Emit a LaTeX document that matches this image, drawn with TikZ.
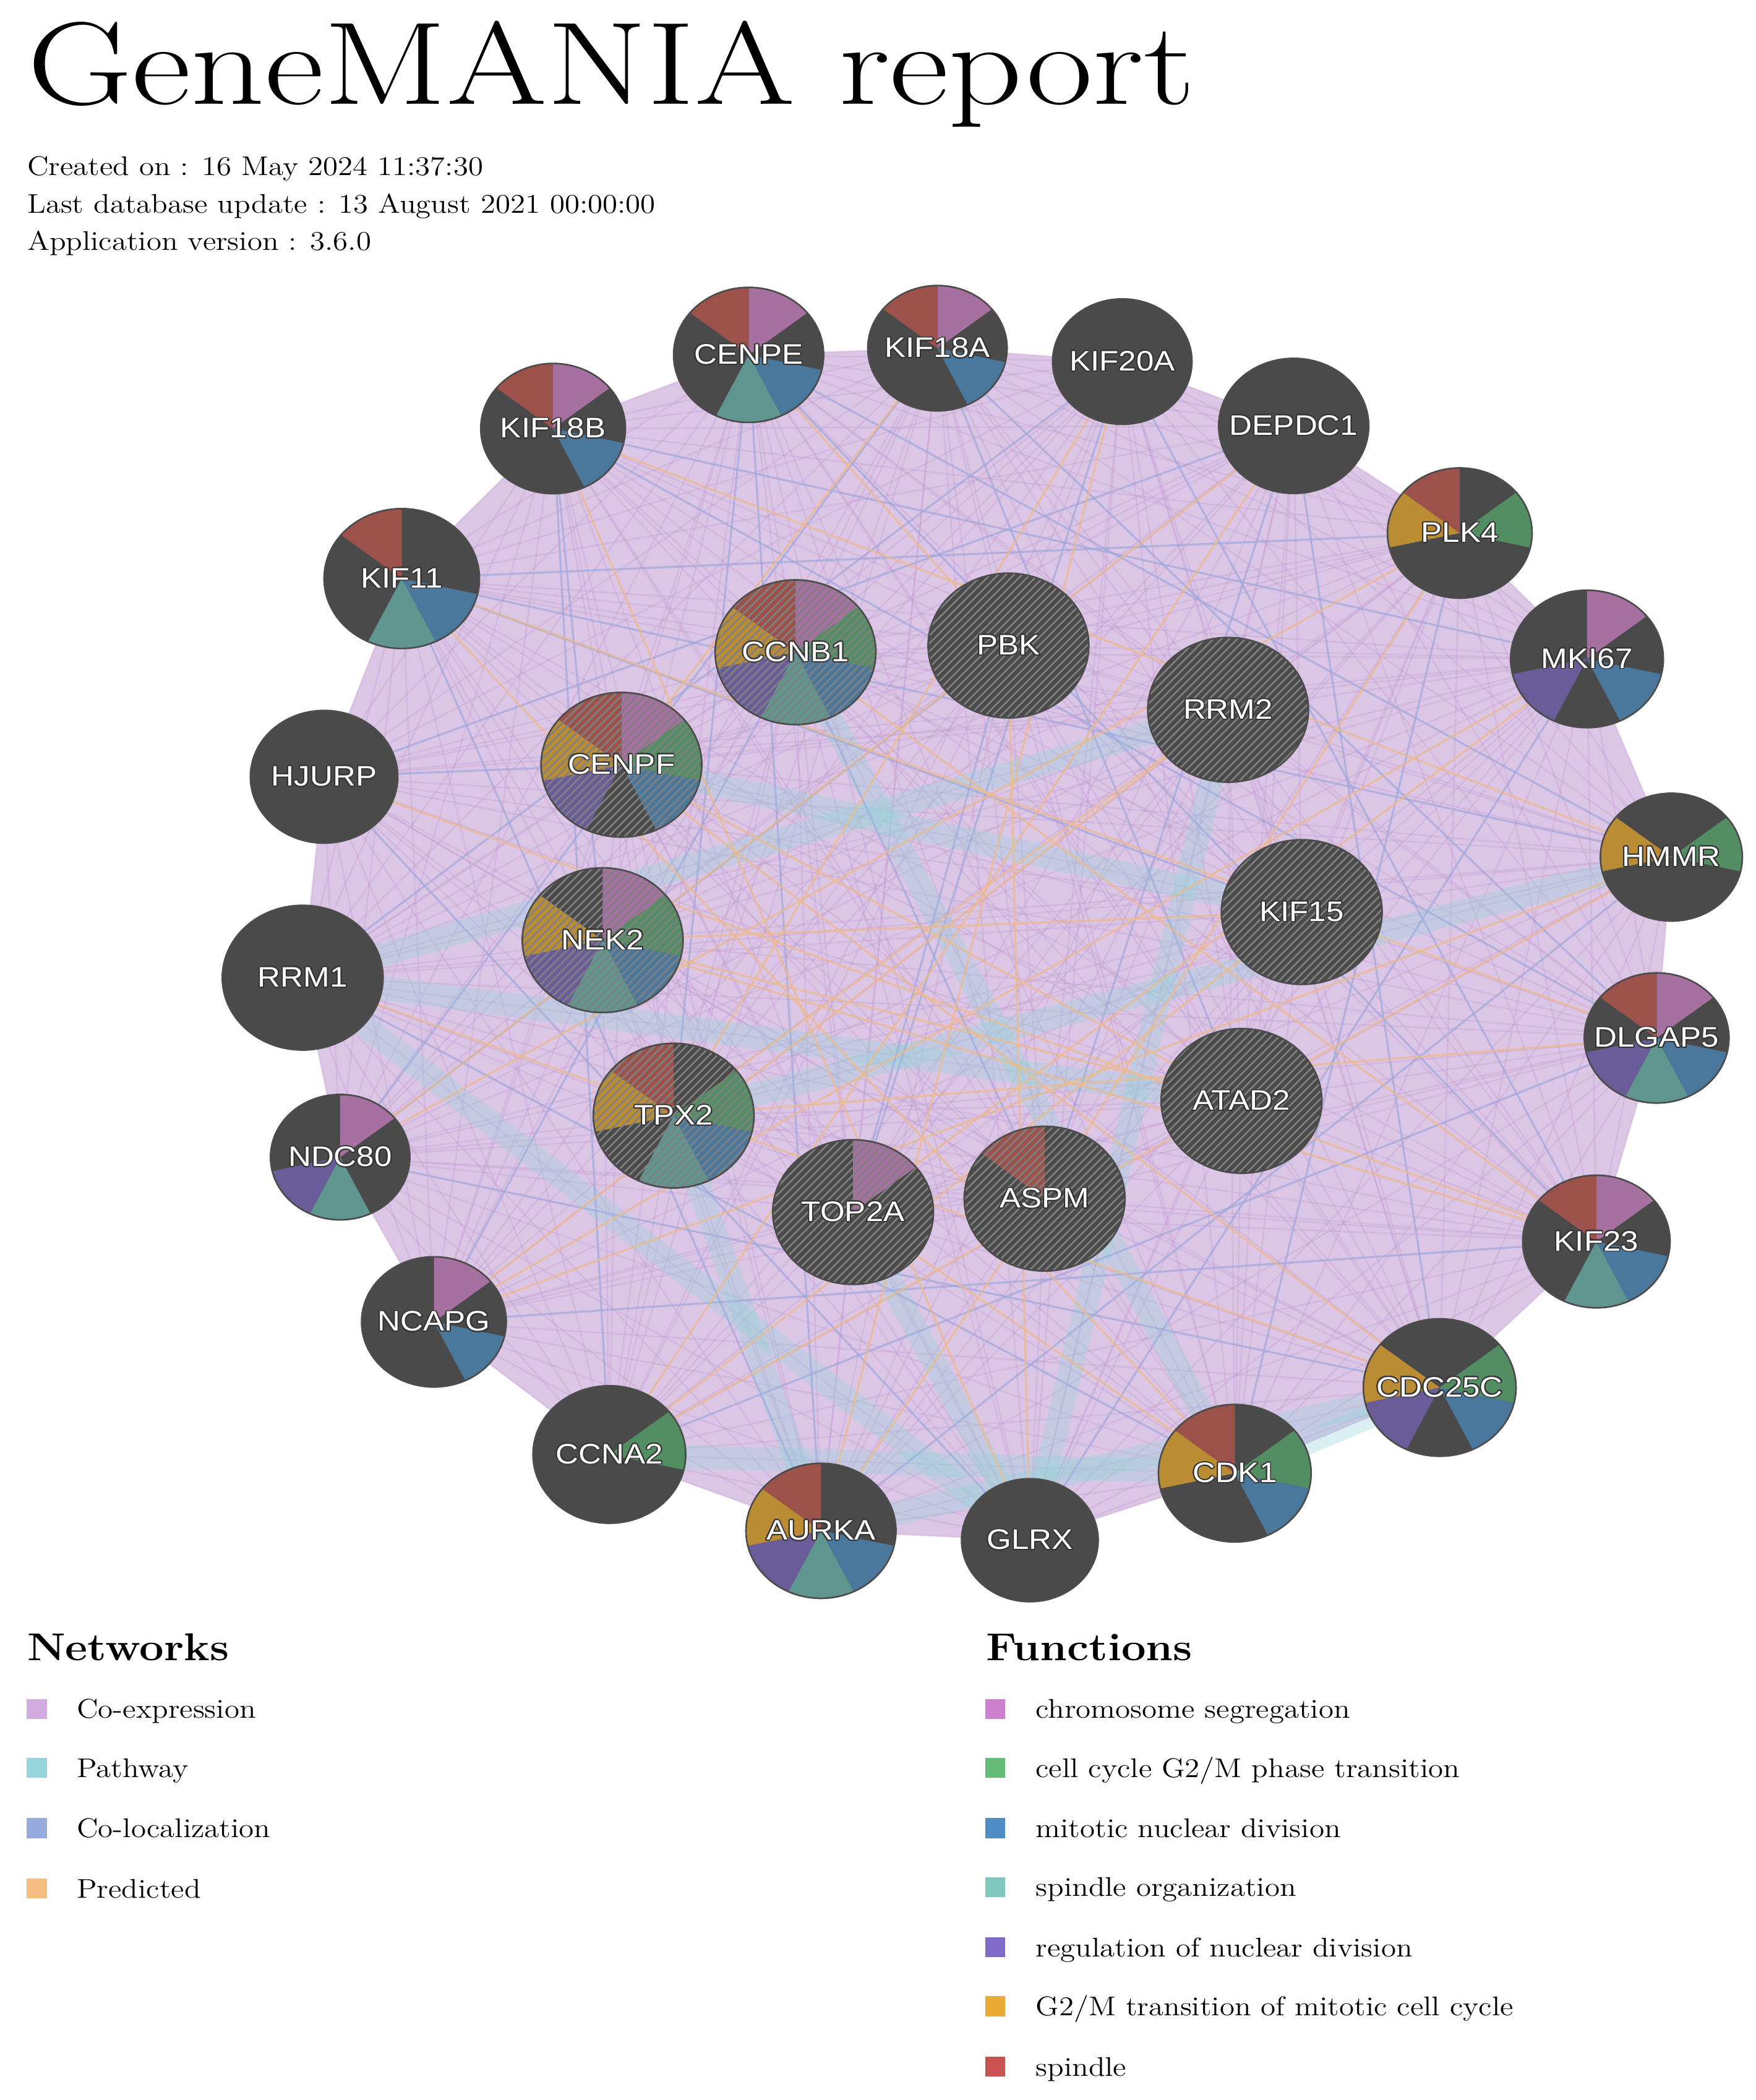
\documentclass[tikz,border=0pt]{standalone}
\usepackage{fontspec}
\newfontfamily\genefont{Liberation Sans}
\usepackage{contour}
\usetikzlibrary{patterns.meta,shapes.geometric}
\pgfdeclarelayer{bg}
\pgfdeclarelayer{pies}
\pgfsetlayers{bg,pies,main}
% slice colours inside nodes
\definecolor{cP}{RGB}{166,112,160}
\definecolor{cG}{RGB}{82,142,98}
\definecolor{cB}{RGB}{74,120,156}
\definecolor{cT}{RGB}{96,150,144}
\definecolor{cU}{RGB}{106,92,152}
\definecolor{cO}{RGB}{186,140,52}
\definecolor{cR}{RGB}{156,82,74}
\definecolor{cN}{RGB}{74,74,74}
\definecolor{hatchc}{RGB}{128,128,128}
% legend colours
\definecolor{fP}{RGB}{205,128,205}
\definecolor{fG}{RGB}{100,188,120}
\definecolor{fB}{RGB}{78,140,198}
\definecolor{fT}{RGB}{128,200,190}
\definecolor{fU}{RGB}{128,108,200}
\definecolor{fO}{RGB}{234,170,52}
\definecolor{fR}{RGB}{198,82,82}
\definecolor{nCoexp}{RGB}{210,172,222}
\definecolor{nPath}{RGB}{150,212,218}
\definecolor{nColoc}{RGB}{150,170,222}
\definecolor{nPred}{RGB}{245,190,128}
\definecolor{lavfill}{RGB}{220,198,230}
\definecolor{lavline}{RGB}{196,158,210}
\newcommand{\sx}[1]{\scalebox{1.12}[1]{#1}}
\contourlength{0.45pt}
\newcommand{\gene}[6]{%
  \begin{pgfonlayer}{pies}
    \pgfmathsetmacro\gry{0.9*#4}%
    \fill[cN] (#2,-#3) ellipse[x radius=#4,y radius=\gry];
    \foreach \c [count=\k from 0] in {#6} {%
      \ifx\c\skipc\else
      \pgfmathsetmacro\aa{90-\k*360/7}%
      \pgfmathsetmacro\ab{90-(\k+1)*360/7}%
      \fill[\c] (#2,-#3) -- ++(\aa:#4 and \gry) arc[start angle=\aa,end angle=\ab,x radius=#4,y radius=\gry] -- cycle;
      \fi
    }
    \ifnum#5=1\relax
      \fill[pattern={Lines[angle=45,distance=2.4pt,line width=0.7pt]},pattern color=hatchc] (#2,-#3) ellipse[x radius=#4,y radius=\gry];
    \fi
    \draw[rim] (#2,-#3) ellipse[x radius=#4,y radius=\gry];
  \end{pgfonlayer}
  \node[genelabel] (#1) at (#2,-#3) {\sx{\contour{black!80}{#1}}};
}
\def\skipc{cN}
\begin{document}
\begin{tikzpicture}[x=0.02cm,y=0.02cm,
  rim/.style={draw=black!70,line width=0.7pt},
  genelabel/.style={shape=ellipse,inner sep=0pt,text=white,font=\genefont\fontsize{12}{13}\selectfont},
  coexp/.style={draw=lavline,line width=0.7pt,opacity=0.35},
  coloc/.style={draw=nColoc,line width=0.9pt,opacity=0.5},
  pred/.style={draw=nPred,line width=0.9pt,opacity=0.6},
  path/.style={draw=nPath,line width=10pt,opacity=0.35},
  legsq/.style={minimum size=8.5pt,inner sep=0pt,draw=none},
  legtext/.style={anchor=base west,inner sep=0pt,font=\fontsize{11.5}{14}\selectfont},
  leghead/.style={anchor=base west,inner sep=0pt,font=\bfseries\fontsize{16.5}{20}\selectfont},
  meta/.style={anchor=base west,inner sep=0pt,font=\fontsize{11.5}{14}\selectfont}]
\useasboundingbox (0,0) rectangle (1311,-1568);

% header
\node[anchor=base west,inner sep=0pt,font=\fontsize{50}{60}\selectfont] (title) at (20,-78) {\scalebox{1.23}[1]{GeneMANIA report}};
\node[meta] (created) at (20,-131) {\sx{Created on : 16 May 2024 11:37:30}};
\node[meta] (dbupdate) at (20,-159) {\sx{Last database update : 13 August 2021 00:00:00}};
\node[meta] (appver) at (20,-187) {\sx{Application version : 3.6.0}};

% genes: name, x, y, rx, hatched, slices (P,G,B,T,U,O,R)
\gene{CENPE}{559}{265}{56}{0}{cP,cN,cB,cT,cN,cN,cR}
\gene{KIF18A}{700}{260}{52}{0}{cP,cN,cB,cN,cN,cN,cR}
\gene{KIF20A}{838}{270}{52}{0}{cN,cN,cN,cN,cN,cN,cN}
\gene{DEPDC1}{966}{318}{56}{0}{cN,cN,cN,cN,cN,cN,cN}
\gene{PLK4}{1090}{398}{54}{0}{cN,cG,cN,cN,cN,cO,cR}
\gene{MKI67}{1185}{492}{57}{0}{cP,cN,cB,cN,cU,cN,cN}
\gene{HMMR}{1248}{640}{53}{0}{cN,cG,cN,cN,cN,cO,cN}
\gene{DLGAP5}{1237}{775}{54}{0}{cP,cN,cB,cT,cU,cN,cR}
\gene{KIF23}{1192}{927}{55}{0}{cP,cN,cB,cT,cN,cN,cR}
\gene{CDC25C}{1075}{1036}{57}{0}{cN,cG,cB,cN,cU,cO,cN}
\gene{CDK1}{922}{1100}{57}{0}{cN,cG,cB,cN,cN,cO,cR}
\gene{GLRX}{769}{1150}{51}{0}{cN,cN,cN,cN,cN,cN,cN}
\gene{AURKA}{613}{1143}{56}{0}{cN,cN,cB,cT,cU,cO,cR}
\gene{CCNA2}{455}{1086}{57}{0}{cN,cG,cN,cN,cN,cN,cN}
\gene{NCAPG}{324}{987}{54}{0}{cP,cN,cB,cN,cN,cN,cN}
\gene{NDC80}{254}{864}{52}{0}{cP,cN,cN,cT,cU,cN,cN}
\gene{RRM1}{226}{730}{60}{0}{cN,cN,cN,cN,cN,cN,cN}
\gene{HJURP}{242}{580}{55}{0}{cN,cN,cN,cN,cN,cN,cN}
\gene{KIF11}{300}{432}{58}{0}{cN,cN,cB,cT,cN,cN,cR}
\gene{KIF18B}{413}{320}{54}{0}{cP,cN,cB,cN,cN,cN,cR}
\gene{CCNB1}{594}{487}{60}{1}{cP,cG,cB,cT,cU,cO,cR}
\gene{PBK}{753}{482}{60}{1}{cN,cN,cN,cN,cN,cN,cN}
\gene{RRM2}{917}{530}{60}{1}{cN,cN,cN,cN,cN,cN,cN}
\gene{CENPF}{464}{571}{60}{1}{cP,cG,cB,cN,cU,cO,cR}
\gene{KIF15}{972}{681}{60}{1}{cN,cN,cN,cN,cN,cN,cN}
\gene{NEK2}{450}{702}{60}{1}{cP,cG,cB,cT,cU,cO,cN}
\gene{TPX2}{503}{833}{60}{1}{cN,cG,cB,cT,cN,cO,cR}
\gene{ATAD2}{927}{822}{60}{1}{cN,cN,cN,cN,cN,cN,cN}
\gene{TOP2A}{637}{905}{60}{1}{cP,cN,cN,cN,cN,cN,cN}
\gene{ASPM}{780}{895}{60}{1}{cN,cN,cN,cN,cN,cN,cR}

% network edges
\begin{pgfonlayer}{bg}
  \fill[white] (0,0) rectangle (1311,-1568);
  \fill[lavfill] (CENPE.center) -- (KIF18A.center) -- (KIF20A.center) -- (DEPDC1.center) -- (PLK4.center) -- (MKI67.center) -- (HMMR.center) -- (DLGAP5.center) -- (KIF23.center) -- (CDC25C.center) -- (CDK1.center) -- (GLRX.center) -- (AURKA.center) -- (CCNA2.center) -- (NCAPG.center) -- (NDC80.center) -- (RRM1.center) -- (HJURP.center) -- (KIF11.center) -- (KIF18B.center) -- cycle;
  \def\allgenes{CENPE,KIF18A,KIF20A,DEPDC1,PLK4,MKI67,HMMR,DLGAP5,KIF23,CDC25C,CDK1,GLRX,AURKA,CCNA2,NCAPG,NDC80,RRM1,HJURP,KIF11,KIF18B,CCNB1,PBK,RRM2,CENPF,KIF15,NEK2,TPX2,ATAD2,TOP2A,ASPM}
  \foreach \a [count=\i] in \allgenes {
    \foreach \b [count=\j] in \allgenes {
      \ifnum\j>\i\relax \draw[coexp] (\a.center) -- (\b.center); \fi
    }
  }
  \foreach \a/\b in {RRM1/RRM2,RRM1/GLRX,RRM2/GLRX,TPX2/HMMR,RRM1/ATAD2,TPX2/AURKA,CCNB1/CDK1,CDK1/CDC25C,CCNA2/CDK1,AURKA/CDC25C,CENPF/KIF15,TOP2A/GLRX}
    \draw[path] (\a.center) -- (\b.center);
  \foreach \a/\b in {CENPE/AURKA,KIF18A/NDC80,KIF20A/RRM1,DEPDC1/HJURP,PLK4/KIF11,MKI67/KIF18B,HMMR/CENPE,DLGAP5/KIF18A,KIF23/KIF20A,CDC25C/DEPDC1,CDK1/PLK4,GLRX/MKI67,AURKA/HMMR,CCNA2/DLGAP5,NCAPG/KIF23,NDC80/CDC25C,RRM1/CDK1,HJURP/GLRX,KIF11/AURKA,KIF18B/CCNA2,CCNB1/NCAPG,PBK/NDC80,CENPF/HJURP,KIF15/KIF11,NEK2/KIF18B,TPX2/CENPE,ATAD2/KIF18A,TOP2A/KIF20A,ASPM/DEPDC1,CCNB1/ASPM,PBK/TOP2A,KIF11/HMMR,KIF18B/DLGAP5,CENPE/KIF23}
    \draw[coloc] (\a.center) -- (\b.center);
  \foreach \a/\b in {CENPE/PBK,KIF18A/CENPF,KIF18B/HMMR,KIF11/DLGAP5,HJURP/KIF23,RRM1/CDC25C,NDC80/PLK4,NCAPG/MKI67,CCNA2/DEPDC1,AURKA/KIF20A,GLRX/KIF18B,CDK1/KIF11,CDC25C/CENPF,KIF23/NEK2,DLGAP5/TPX2,HMMR/NCAPG,MKI67/TOP2A,PLK4/ASPM,DEPDC1/NDC80,KIF20A/TPX2,TOP2A/CDK1,ASPM/AURKA,ATAD2/NEK2,KIF15/CCNA2,RRM2/NCAPG,PBK/GLRX,CCNB1/KIF23,CENPF/ATAD2,NEK2/KIF15,TPX2/RRM2,HMMR/CCNA2}
    \draw[pred] (\a.center) -- (\b.center);
\end{pgfonlayer}

% legend: networks
\node[leghead] (nethead) at (20,-1240) {\sx{Networks}};
\node[legsq,fill=nCoexp] (nsq1) at (27.5,-1276) {};
\node[legtext] (nt1) at (57,-1283) {\sx{Co-expression}};
\node[legsq,fill=nPath] (nsq2) at (27.5,-1320) {};
\node[legtext] (nt2) at (57,-1327) {\sx{Pathway}};
\node[legsq,fill=nColoc] (nsq3) at (27.5,-1365) {};
\node[legtext] (nt3) at (57,-1372) {\sx{Co-localization}};
\node[legsq,fill=nPred] (nsq4) at (27.5,-1410) {};
\node[legtext] (nt4) at (57,-1417) {\sx{Predicted}};

% legend: functions
\node[leghead] (funhead) at (736,-1240) {\sx{Functions}};
\node[legsq,fill=fP] (fsq1) at (743,-1276) {};
\node[legtext] (ft1) at (773,-1283) {\sx{chromosome segregation}};
\node[legsq,fill=fG] (fsq2) at (743,-1320) {};
\node[legtext] (ft2) at (773,-1327) {\sx{cell cycle G2/M phase transition}};
\node[legsq,fill=fB] (fsq3) at (743,-1365) {};
\node[legtext] (ft3) at (773,-1372) {\sx{mitotic nuclear division}};
\node[legsq,fill=fT] (fsq4) at (743,-1409) {};
\node[legtext] (ft4) at (773,-1416) {\sx{spindle organization}};
\node[legsq,fill=fU] (fsq5) at (743,-1454) {};
\node[legtext] (ft5) at (773,-1461) {\sx{regulation of nuclear division}};
\node[legsq,fill=fO] (fsq6) at (743,-1498) {};
\node[legtext] (ft6) at (773,-1505) {\sx{G2/M transition of mitotic cell cycle}};
\node[legsq,fill=fR] (fsq7) at (743,-1543) {};
\node[legtext] (ft7) at (773,-1550) {\sx{spindle}};
\end{tikzpicture}
\end{document}
